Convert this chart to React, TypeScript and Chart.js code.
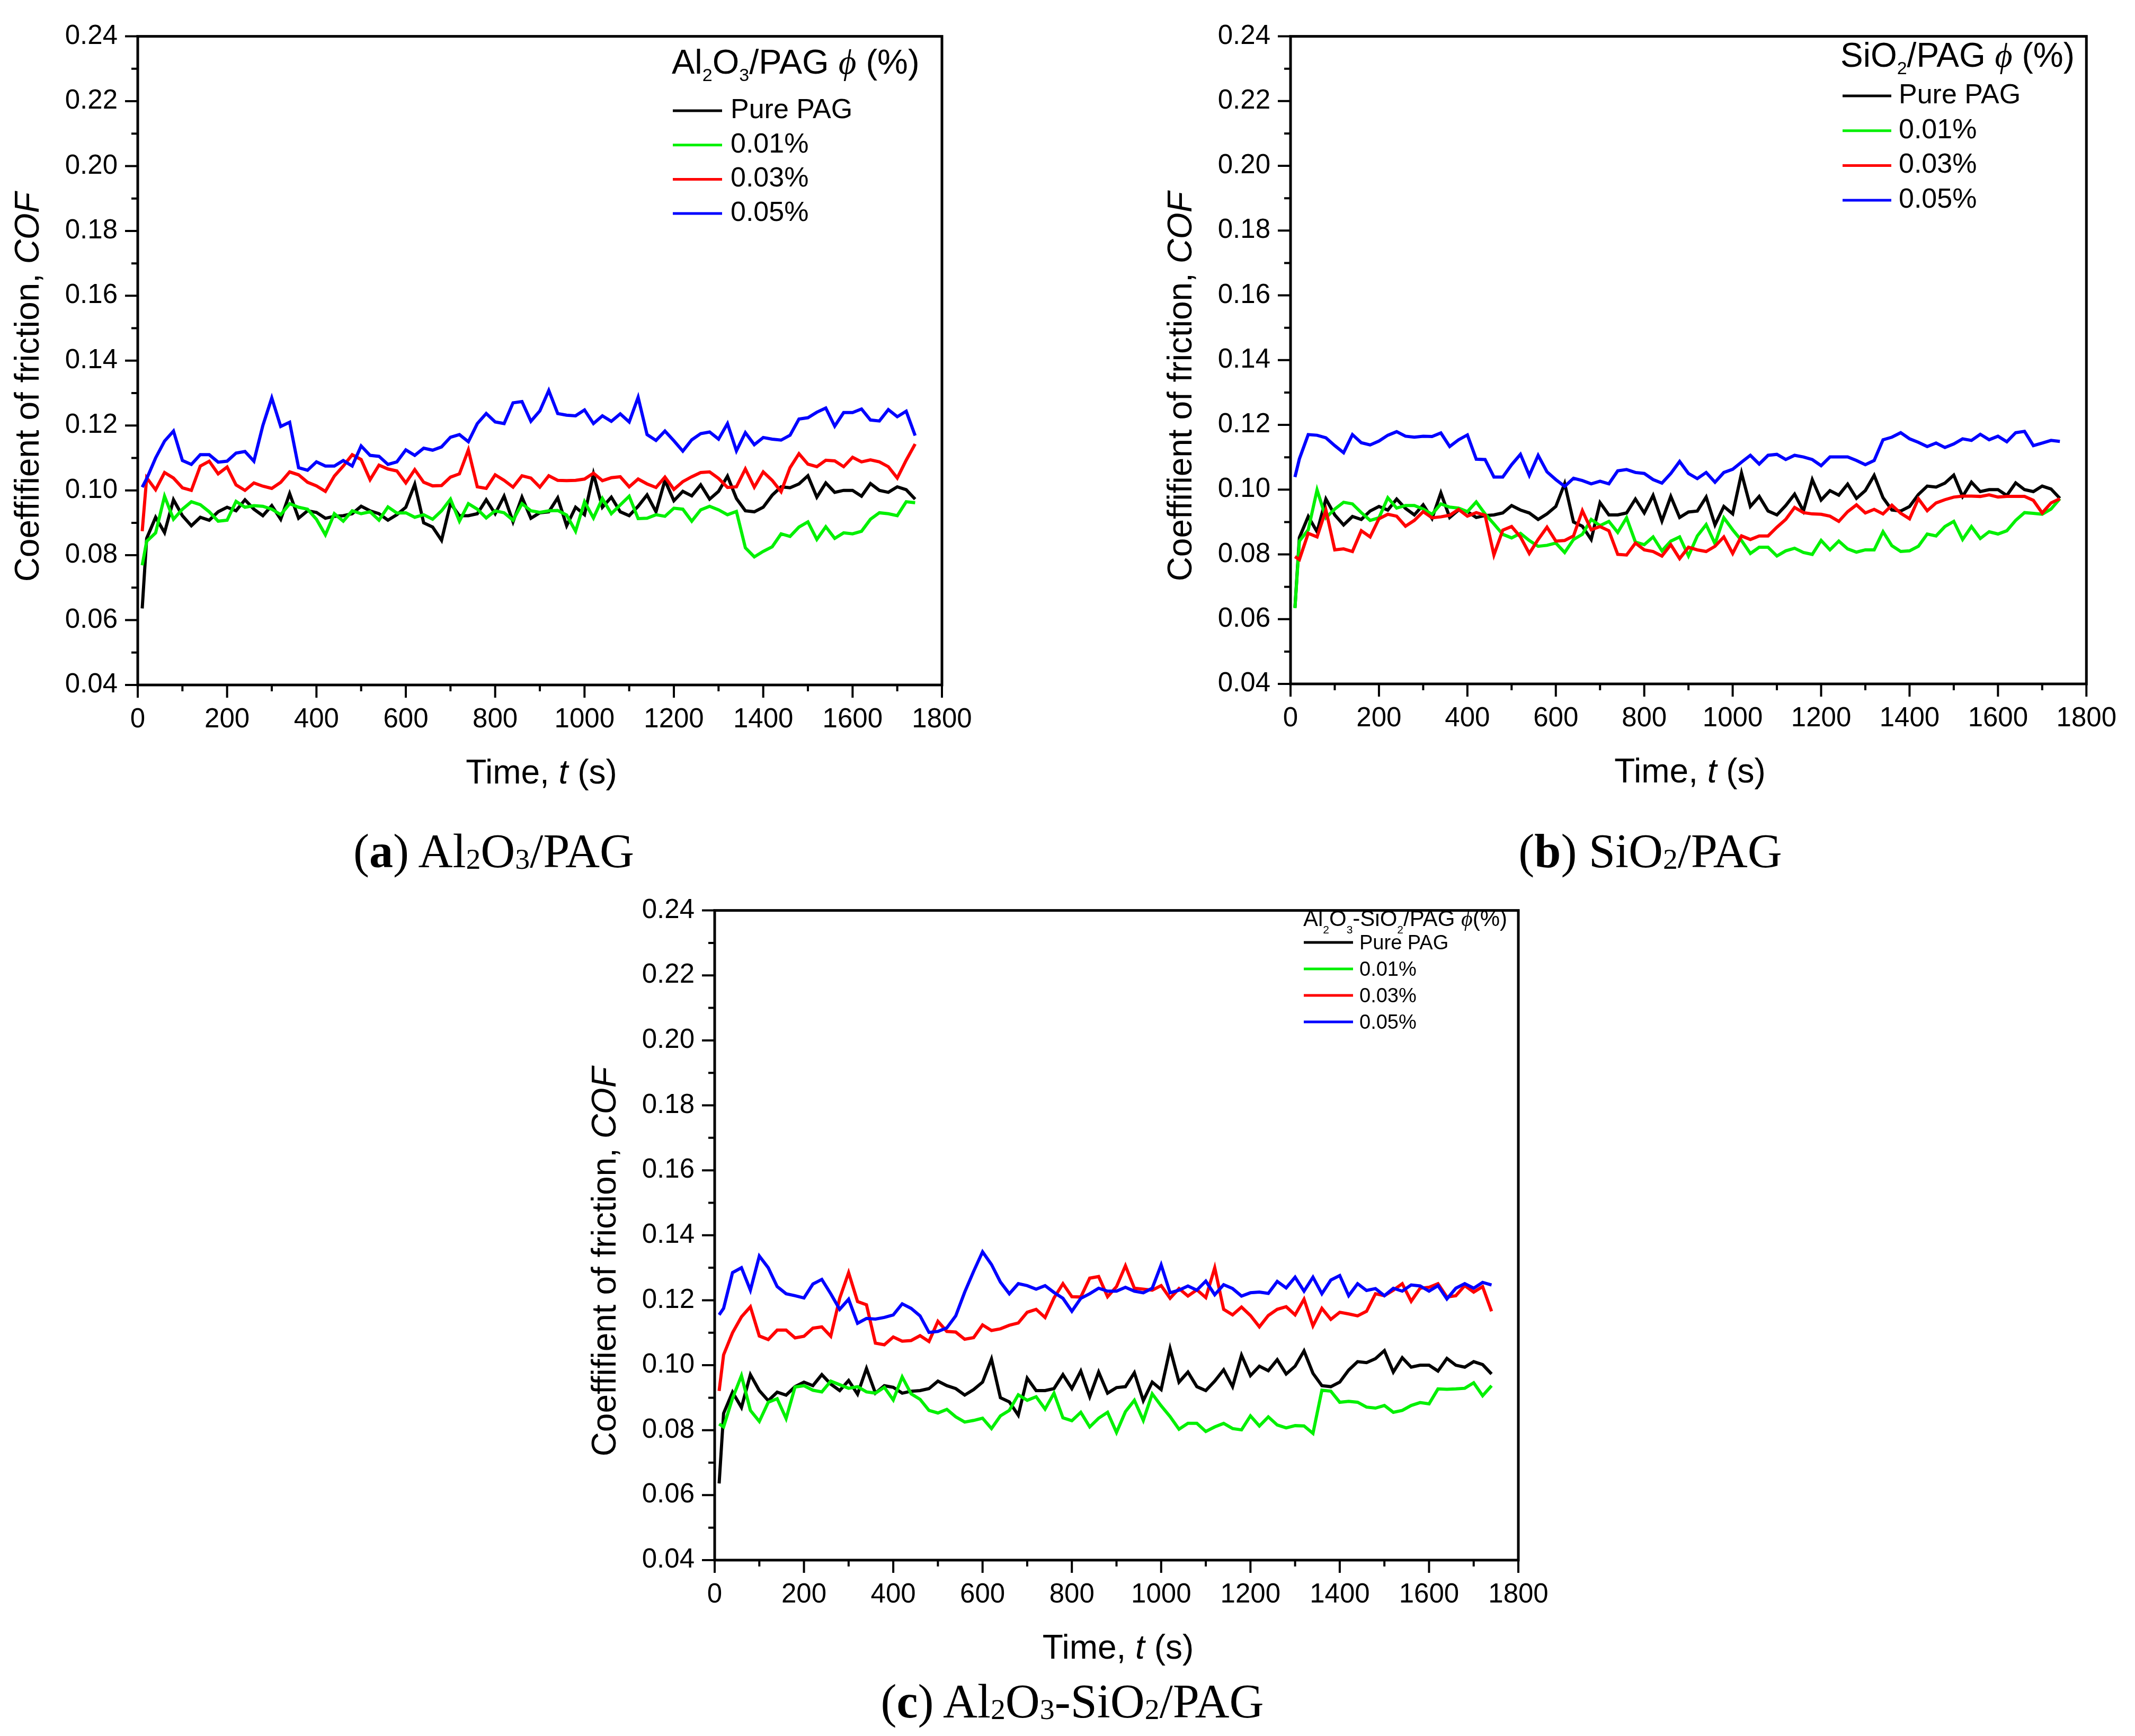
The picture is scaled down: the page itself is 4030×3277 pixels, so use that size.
import { useEffect, useRef } from "react";
import { Chart, registerables } from "chart.js";

Chart.register(...registerables);

const SANS = "'Liberation Sans', Arial, sans-serif";
const SERIF = "'Liberation Serif', 'DejaVu Serif', serif";

// sampling times (s)
const times = [
  10, 20, 40, 60, 80, 100, 120, 140, 160, 180,
  200, 220, 240, 260, 280, 300, 320, 340, 360, 380,
  400, 420, 440, 460, 480, 500, 520, 540, 560, 580,
  600, 620, 640, 660, 680, 700, 720, 740, 760, 780,
  800, 820, 840, 860, 880, 900, 920, 940, 960, 980,
  1000, 1020, 1040, 1060, 1080, 1100, 1120, 1140, 1160, 1180,
  1200, 1220, 1240, 1260, 1280, 1300, 1320, 1340, 1360, 1380,
  1400, 1420, 1440, 1460, 1480, 1500, 1520, 1540, 1560, 1580,
  1600, 1620, 1640, 1660, 1680, 1700, 1720, 1740,
];

// Pure PAG (same run in all three panels)
const purePag = [
  0.0636, 0.0852, 0.0917, 0.087, 0.0971, 0.0922, 0.0891, 0.0917, 0.0908, 0.0934,
  0.0948, 0.0937, 0.0971, 0.0942, 0.0922, 0.0953, 0.0911, 0.099, 0.0914, 0.0937,
  0.0932, 0.0914, 0.092, 0.0922, 0.0928, 0.0951, 0.0937, 0.0928, 0.0908, 0.0925,
  0.0948, 0.1019, 0.09, 0.0887, 0.0846, 0.096, 0.0922, 0.0922, 0.0928, 0.0971,
  0.0928, 0.0982, 0.0903, 0.0979, 0.0914, 0.0931, 0.0934, 0.0977, 0.0891, 0.0948,
  0.0925, 0.1051, 0.0948, 0.0979, 0.0934, 0.0922, 0.0951, 0.0986, 0.0934, 0.1031,
  0.0968, 0.0997, 0.0983, 0.1017, 0.0973, 0.0997, 0.1044, 0.0975, 0.0937, 0.0934,
  0.0948, 0.0985, 0.1011, 0.1008, 0.102, 0.1045, 0.0979, 0.1023, 0.0994, 0.1,
  0.1, 0.0982, 0.1021, 0.1, 0.0994, 0.1011, 0.1002, 0.0973,
];

// (a) Al2O3/PAG
const al2o3_001 = [
  0.0769, 0.0843, 0.0869, 0.0982, 0.0911, 0.0942, 0.0965, 0.0956, 0.0934, 0.0905,
  0.0908, 0.0966, 0.0948, 0.0953, 0.0951, 0.0942, 0.0925, 0.0959, 0.0948, 0.0942,
  0.0911, 0.0863, 0.0928, 0.0905, 0.0937, 0.0928, 0.0934, 0.0908, 0.0949, 0.093,
  0.0931, 0.0917, 0.0925, 0.0911, 0.0937, 0.0973, 0.0905, 0.0959, 0.0942, 0.0915,
  0.0937, 0.0931, 0.0908, 0.0959, 0.0937, 0.0932, 0.0937, 0.0938, 0.0924, 0.0874,
  0.0965, 0.0915, 0.0975, 0.0928, 0.0955, 0.0982, 0.0913, 0.0914, 0.0925, 0.092,
  0.0945, 0.0942, 0.0905, 0.094, 0.0951, 0.094, 0.0925, 0.0935, 0.0823, 0.0795,
  0.0812, 0.0826, 0.0866, 0.0858, 0.0887, 0.0903, 0.0849, 0.0888, 0.0852, 0.0869,
  0.0866, 0.0874, 0.0911, 0.0931, 0.0928, 0.0922, 0.0965, 0.0962,
];
const al2o3_003 = [
  0.0874, 0.1039, 0.1002, 0.1055, 0.1038, 0.1008, 0.1, 0.1075, 0.109, 0.1051,
  0.1072, 0.1017, 0.1, 0.1023, 0.1013, 0.1006, 0.1025, 0.1057, 0.1048, 0.1025,
  0.1014, 0.0997, 0.1044, 0.1075, 0.111, 0.1095, 0.1033, 0.1078, 0.1066, 0.106,
  0.1023, 0.1064, 0.1025, 0.1014, 0.1015, 0.1041, 0.1051, 0.1125, 0.1011, 0.1006,
  0.1048, 0.1031, 0.101, 0.1045, 0.1038, 0.101, 0.1045, 0.1031, 0.103, 0.1031,
  0.1035, 0.1053, 0.103, 0.1039, 0.1042, 0.1011, 0.1035, 0.102, 0.1009, 0.1041,
  0.1003, 0.1027, 0.1042, 0.1055, 0.1057, 0.1037, 0.1009, 0.1011, 0.1066, 0.101,
  0.1057, 0.1031, 0.0996, 0.107, 0.1113, 0.1081, 0.1073, 0.1093, 0.1091, 0.1073,
  0.1102, 0.1088, 0.1094, 0.1088, 0.1073, 0.1038, 0.1093, 0.1143,
];
const al2o3_005 = [
  0.101, 0.1036, 0.11, 0.1152, 0.1183, 0.1092, 0.108, 0.111, 0.111, 0.1087,
  0.109, 0.1115, 0.112, 0.109, 0.12, 0.1285, 0.1197, 0.121, 0.107, 0.1062,
  0.1088, 0.1075, 0.1075, 0.1092, 0.1075, 0.1137, 0.1108, 0.1105, 0.108, 0.1088,
  0.1125, 0.1108, 0.113, 0.1124, 0.1134, 0.1164, 0.1172, 0.115, 0.1206, 0.1237,
  0.1211, 0.1206, 0.127, 0.1274, 0.1213, 0.1245, 0.1308, 0.1237, 0.1232, 0.123,
  0.1248, 0.1206, 0.123, 0.1213, 0.1236, 0.1211, 0.1287, 0.1172, 0.1154, 0.1183,
  0.1153, 0.1121, 0.1156, 0.1175, 0.118, 0.1158, 0.1206, 0.1122, 0.1178, 0.1141,
  0.1163, 0.1158, 0.1155, 0.117, 0.122, 0.1224, 0.1241, 0.1254, 0.1198, 0.124,
  0.124, 0.1251, 0.1217, 0.1214, 0.1249, 0.1227, 0.1244, 0.1169,
];

// (b) SiO2/PAG
const sio2_001 = [
  0.0634, 0.0841, 0.0876, 0.0999, 0.0913, 0.094, 0.0961, 0.0956, 0.0929, 0.0905,
  0.0913, 0.0975, 0.0943, 0.0951, 0.0951, 0.094, 0.0924, 0.0956, 0.0946, 0.0943,
  0.0932, 0.0962, 0.0925, 0.0894, 0.0862, 0.0851, 0.0865, 0.0843, 0.0825, 0.0828,
  0.0835, 0.0806, 0.0846, 0.0862, 0.0908, 0.0889, 0.0902, 0.0868, 0.0913, 0.0838,
  0.083, 0.0854, 0.0811, 0.0841, 0.0854, 0.0795, 0.0857, 0.0892, 0.0833, 0.0913,
  0.0876, 0.0843, 0.0803, 0.0822, 0.0822, 0.0795, 0.0811, 0.0819, 0.0806, 0.08,
  0.0843, 0.0814, 0.0841, 0.0817, 0.0807, 0.0814, 0.0814, 0.087, 0.0827, 0.0809,
  0.0811, 0.0825, 0.0863, 0.0857, 0.0886, 0.0902, 0.0846, 0.0886, 0.0849, 0.087,
  0.0863, 0.0873, 0.0905, 0.0929, 0.0927, 0.0924, 0.094, 0.0972,
];
const sio2_003 = [
  0.0793, 0.0784, 0.0865, 0.0854, 0.0937, 0.0814, 0.0817, 0.0809, 0.0873, 0.0854,
  0.091, 0.0924, 0.0918, 0.0887, 0.0905, 0.0932, 0.0913, 0.0916, 0.0921, 0.0939,
  0.0918, 0.0929, 0.0921, 0.0798, 0.0875, 0.0886, 0.0854, 0.0803, 0.0846, 0.0884,
  0.0841, 0.0843, 0.0857, 0.0935, 0.0876, 0.0886, 0.0873, 0.08, 0.0798, 0.0835,
  0.0814, 0.0809, 0.0795, 0.083, 0.0787, 0.0822, 0.0814, 0.0809, 0.0825, 0.0854,
  0.0803, 0.0857, 0.0846, 0.0857, 0.0857, 0.0884, 0.0908, 0.0945, 0.0929, 0.0925,
  0.0924, 0.0918, 0.0902, 0.0932, 0.0953, 0.0928, 0.0939, 0.0925, 0.0952, 0.0927,
  0.091, 0.0972, 0.0935, 0.0959, 0.0969, 0.0977, 0.098, 0.098, 0.0979, 0.0984,
  0.0977, 0.0979, 0.0979, 0.0979, 0.0967, 0.0928, 0.0959, 0.0972,
];
const sio2_005 = [
  0.1039, 0.1095, 0.117, 0.1168, 0.116, 0.1136, 0.1114, 0.117, 0.1145, 0.1138,
  0.115, 0.1168, 0.1179, 0.1165, 0.1162, 0.1165, 0.1164, 0.1175, 0.1133, 0.1154,
  0.1169, 0.1094, 0.1093, 0.1039, 0.1039, 0.1077, 0.1109, 0.1044, 0.1106, 0.1055,
  0.1031, 0.101, 0.1035, 0.1028, 0.1018, 0.1026, 0.1018, 0.1058, 0.1062, 0.1053,
  0.105, 0.1031, 0.102, 0.105, 0.1087, 0.105, 0.1034, 0.1053, 0.1023, 0.1053,
  0.1063, 0.1085, 0.1106, 0.1079, 0.1106, 0.1109, 0.1093, 0.1106, 0.1101, 0.1093,
  0.1074, 0.1101, 0.1101, 0.1101, 0.109, 0.1077, 0.109, 0.1154, 0.1162, 0.1176,
  0.1157, 0.1146, 0.1133, 0.1144, 0.113, 0.1141, 0.1157, 0.1152, 0.1171, 0.1154,
  0.1165, 0.1148, 0.1176, 0.118, 0.1136, 0.1144, 0.1152, 0.1149,
];

// (c) Al2O3-SiO2/PAG
const hybrid_001 = [
  0.0819, 0.081, 0.0898, 0.0968, 0.0861, 0.0827, 0.0886, 0.0897, 0.0836, 0.0933,
  0.0937, 0.0923, 0.0918, 0.0951, 0.094, 0.0929, 0.0934, 0.0918, 0.0914, 0.0932,
  0.0893, 0.0964, 0.0912, 0.0895, 0.0861, 0.0853, 0.0864, 0.0841, 0.0825, 0.083,
  0.0837, 0.0805, 0.0844, 0.0861, 0.0909, 0.0892, 0.0903, 0.0865, 0.0914, 0.0838,
  0.0829, 0.0855, 0.081, 0.0837, 0.0855, 0.0793, 0.0857, 0.0892, 0.083, 0.0912,
  0.0875, 0.0842, 0.0803, 0.0821, 0.0821, 0.0796, 0.081, 0.0821, 0.0805, 0.0801,
  0.0844, 0.0813, 0.0841, 0.0816, 0.0807, 0.0814, 0.0813, 0.079, 0.0923, 0.092,
  0.0886, 0.0889, 0.0886, 0.0871, 0.0868, 0.0876, 0.0855, 0.0861, 0.0876, 0.0885,
  0.0881, 0.0927, 0.0926, 0.0927, 0.0929, 0.0946, 0.0906, 0.0937,
];
const hybrid_003 = [
  0.0921, 0.1032, 0.11, 0.1149, 0.118, 0.109, 0.1079, 0.1108, 0.1108, 0.1084,
  0.1089, 0.1114, 0.1118, 0.1089, 0.1206, 0.1285, 0.1196, 0.1186, 0.1068, 0.1063,
  0.1087, 0.1074, 0.1076, 0.1091, 0.1073, 0.1135, 0.1104, 0.1102, 0.108, 0.1085,
  0.1124, 0.1107, 0.1112, 0.1123, 0.113, 0.1163, 0.1172, 0.1147, 0.1207, 0.1251,
  0.1211, 0.121, 0.1268, 0.1273, 0.1211, 0.1242, 0.1306, 0.1237, 0.1234, 0.1231,
  0.1245, 0.1206, 0.1236, 0.1213, 0.1232, 0.1208, 0.13, 0.1172, 0.1155, 0.1179,
  0.1153, 0.1118, 0.1153, 0.1172, 0.118, 0.1155, 0.1203, 0.1121, 0.1175, 0.1141,
  0.1163, 0.1158, 0.1152, 0.1166, 0.122, 0.1214, 0.1231, 0.1251, 0.1197, 0.1237,
  0.124, 0.1251, 0.121, 0.1214, 0.1245, 0.1225, 0.1242, 0.1166,
];
const hybrid_005 = [
  0.1155, 0.1175, 0.1285, 0.13, 0.1231, 0.1336, 0.13, 0.1242, 0.122, 0.1214,
  0.1207, 0.125, 0.1264, 0.122, 0.1172, 0.1203, 0.1129, 0.1144, 0.1142, 0.1147,
  0.1155, 0.1189, 0.1175, 0.1152, 0.1101, 0.1104, 0.1115, 0.1152, 0.1225, 0.1289,
  0.1349, 0.131, 0.1256, 0.122, 0.1251, 0.1245, 0.1234, 0.1245, 0.1224, 0.1206,
  0.1166, 0.1206, 0.122, 0.1237, 0.1228, 0.1228, 0.124, 0.1228, 0.1223, 0.1237,
  0.1309, 0.1223, 0.1231, 0.1244, 0.1231, 0.1259, 0.1217, 0.1248, 0.1236, 0.1213,
  0.1223, 0.1225, 0.1221, 0.1258, 0.1238, 0.1271, 0.1228, 0.1271, 0.122, 0.1262,
  0.1276, 0.1214, 0.1251, 0.123, 0.1236, 0.1214, 0.1237, 0.1228, 0.1247, 0.1244,
  0.1228, 0.1245, 0.1204, 0.1237, 0.1251, 0.1237, 0.1255, 0.1247,
];

const seriesLabels = ["Pure PAG", "0.01%", "0.03%", "0.05%"];
const seriesColors = ["#000000", "#00f000", "#ff0000", "#0000ff"];

type Seg = { t: string; size: number; italic?: boolean; serif?: boolean; dy?: number };

type LegendCfg = {
  title: Seg[];
  x: number;
  y: number;
  y0: number;
  step: number;
  font: number;
  lineX: [number, number];
  textX: number;
  lineDy: number;
};

type PanelCfg = {
  key: string;
  x: number;
  y: number;
  w: number;
  h: number;
  plot: { l: number; t: number; r: number; b: number };
  series: number[][];
  legend: LegendCfg;
};

const phi = (size: number): Seg => ({ t: "\u03D5", size, italic: true, serif: true });

const panels: PanelCfg[] = [
  {
    key: "a",
    x: 0,
    y: 0,
    w: 1900,
    h: 1520,
    plot: { l: 260, t: 48, r: 1778, b: 1293 },
    series: [purePag, al2o3_001, al2o3_003, al2o3_005],
    legend: {
      title: [
        { t: "Al", size: 65 },
        { t: "2", size: 34, dy: 14 },
        { t: "O", size: 65 },
        { t: "3", size: 34, dy: 14 },
        { t: "/PAG ", size: 65 },
        phi(65),
        { t: " (%)", size: 65 },
      ],
      x: 1268,
      y: 139,
      y0: 223,
      step: 64.7,
      font: 52,
      lineX: [1270, 1363],
      textX: 1379,
      lineDy: 14,
    },
  },
  {
    key: "b",
    x: 2150,
    y: 0,
    w: 1880,
    h: 1520,
    plot: { l: 286, t: 36, r: 1802, b: 1291 },
    series: [purePag, sio2_001, sio2_003, sio2_005],
    legend: {
      title: [
        { t: "SiO", size: 64 },
        { t: "2", size: 34, dy: 14 },
        { t: "/PAG ", size: 64 },
        phi(64),
        { t: " (%)", size: 64 },
      ],
      x: 1324,
      y: 126,
      y0: 195,
      step: 65.7,
      font: 52,
      lineX: [1328, 1420],
      textX: 1434,
      lineDy: 14,
    },
  },
  {
    key: "c",
    x: 1060,
    y: 1650,
    w: 1900,
    h: 1520,
    plot: { l: 289, t: 48, r: 1806, b: 1295 },
    series: [purePag, hybrid_001, hybrid_003, hybrid_005],
    legend: {
      title: [
        { t: "Al", size: 42 },
        { t: "2", size: 21, dy: 14 },
        { t: "O", size: 42 },
        { t: "3", size: 21, dy: 14 },
        { t: "-SiO", size: 42 },
        { t: "2", size: 21, dy: 14 },
        { t: "/PAG ", size: 42 },
        phi(42),
        { t: "(%)", size: 42 },
      ],
      x: 1400,
      y: 98,
      y0: 142,
      step: 50,
      font: 38,
      lineX: [1401, 1494],
      textX: 1506,
      lineDy: 13,
    },
  },
];

const yTitle: Seg[] = [
  { t: "Coeffifient of friction, ", size: 64 },
  { t: "COF", size: 64, italic: true },
];
const xTitle: Seg[] = [
  { t: "Time, ", size: 64 },
  { t: "t", size: 64, italic: true },
  { t: " (s)", size: 64 },
];

function segFont(s: Seg) {
  return `${s.italic ? "italic " : ""}${s.size}px ${s.serif ? SERIF : SANS}`;
}

function segsWidth(ctx: CanvasRenderingContext2D, segs: Seg[]) {
  let w = 0;
  for (const s of segs) {
    ctx.font = segFont(s);
    w += ctx.measureText(s.t).width;
  }
  return w;
}

function drawSegs(ctx: CanvasRenderingContext2D, segs: Seg[], x: number, y: number) {
  let cx = x;
  for (const s of segs) {
    ctx.font = segFont(s);
    ctx.fillText(s.t, cx, y + (s.dy ?? 0));
    cx += ctx.measureText(s.t).width;
  }
}

function decorPlugin(p: PanelCfg) {
  return {
    id: "decor-" + p.key,
    afterDraw(chart: any) {
      const { ctx, chartArea: a, scales } = chart;
      ctx.save();
      ctx.fillStyle = "#000";
      ctx.strokeStyle = "#000";
      ctx.textAlign = "left";
      ctx.textBaseline = "alphabetic";

      // frame
      ctx.lineWidth = 5;
      ctx.strokeRect(a.left, a.top, a.right - a.left, a.bottom - a.top);

      // major / minor tick marks, outside
      ctx.lineWidth = 4;
      ctx.beginPath();
      for (const tk of scales.x.ticks) {
        const px = scales.x.getPixelForValue(tk.value);
        const len = Math.round(tk.value) % 200 === 0 ? 24 : 12;
        ctx.moveTo(px, a.bottom);
        ctx.lineTo(px, a.bottom + len);
      }
      for (const tk of scales.y.ticks) {
        const py = scales.y.getPixelForValue(tk.value);
        const len = Math.round(tk.value * 100) % 2 === 0 ? 24 : 12;
        ctx.moveTo(a.left, py);
        ctx.lineTo(a.left - len, py);
      }
      ctx.stroke();

      // axis titles
      const xw = segsWidth(ctx, xTitle);
      drawSegs(ctx, xTitle, (a.left + a.right) / 2 + 3 - xw / 2, a.bottom + 186);

      ctx.save();
      ctx.translate(a.left - 187, (a.top + a.bottom) / 2 + 50);
      ctx.rotate(-Math.PI / 2);
      const yw = segsWidth(ctx, yTitle);
      drawSegs(ctx, yTitle, -yw / 2, 0);
      ctx.restore();

      // legend
      const lg = p.legend;
      drawSegs(ctx, lg.title, lg.x, lg.y);
      seriesLabels.forEach((lab, i) => {
        const by = lg.y0 + i * lg.step;
        ctx.strokeStyle = seriesColors[i];
        ctx.lineWidth = 5;
        ctx.beginPath();
        ctx.moveTo(lg.lineX[0], by - lg.lineDy);
        ctx.lineTo(lg.lineX[1], by - lg.lineDy);
        ctx.stroke();
        ctx.font = `${lg.font}px ${SANS}`;
        ctx.fillText(lab, lg.textX, by);
      });
      ctx.restore();
    },
  };
}

function FrictionChart({ p }: { p: PanelCfg }) {
  const ref = useRef<HTMLCanvasElement | null>(null);

  useEffect(() => {
    if (!ref.current) return;
    const chart = new Chart(ref.current, {
      type: "line",
      data: {
        datasets: p.series.map((vals, i) => ({
          label: seriesLabels[i],
          data: times.map((t, k) => ({ x: t, y: vals[k] })),
          borderColor: seriesColors[i],
          backgroundColor: seriesColors[i],
          borderWidth: 6,
          borderJoinStyle: "miter",
          pointRadius: 0,
          tension: 0,
          order: 4 - i,
        })),
      },
      options: {
        responsive: false,
        animation: false,
        devicePixelRatio: 1,
        events: [],
        layout: {
          padding: { left: 0, top: p.plot.t, right: p.w - p.plot.r, bottom: 0 },
        },
        plugins: { legend: { display: false }, tooltip: { enabled: false } },
        scales: {
          x: {
            type: "linear",
            min: 0,
            max: 1800,
            grid: { display: false, drawTicks: false },
            border: { display: false },
            ticks: {
              stepSize: 100,
              autoSkip: false,
              maxRotation: 0,
              padding: 35,
              color: "#000",
              font: { family: SANS, size: 51 },
              callback: (v: any) => (Math.round(v) % 200 === 0 ? String(Math.round(v)) : ""),
            },
            afterFit: (s: any) => {
              s.height = p.h - p.plot.b;
            },
          },
          y: {
            type: "linear",
            min: 0.04,
            max: 0.24,
            grid: { display: false, drawTicks: false },
            border: { display: false },
            ticks: {
              stepSize: 0.01,
              autoSkip: false,
              padding: 38,
              color: "#000",
              font: { family: SANS, size: 51 },
              callback: (v: any) => (Math.round(v * 100) % 2 === 0 ? Number(v).toFixed(2) : ""),
            },
            afterFit: (s: any) => {
              s.width = p.plot.l;
            },
          },
        },
      },
      plugins: [decorPlugin(p)],
    } as any);
    return () => chart.destroy();
  }, [p]);

  return (
    <canvas
      ref={ref}
      width={p.w}
      height={p.h}
      style={{ position: "absolute", left: p.x, top: p.y, width: p.w, height: p.h }}
    />
  );
}

const subStyle = { fontSize: "0.62em", position: "relative" as const, top: "0.06em" };

function Caption({ cx, base, children }: { cx: number; base: number; children: any }) {
  return (
    <div
      style={{
        position: "absolute",
        left: cx,
        top: base - 74,
        transform: "translateX(-50%)",
        font: `90px ${SERIF}`,
        lineHeight: "88px",
        whiteSpace: "nowrap",
        color: "#000",
      }}
    >
      {children}
    </div>
  );
}

export default function App() {
  useEffect(() => {
    document.body.style.margin = "0";
    document.body.style.background = "#fff";
  }, []);

  return (
    <div style={{ position: "relative", width: 4030, height: 3277, background: "#fff", overflow: "hidden" }}>
      {panels.map((p) => (
        <FrictionChart key={p.key} p={p} />
      ))}
      <Caption cx={932} base={1637}>
        (<b>a</b>) Al<span style={subStyle}>2</span>O<span style={subStyle}>3</span>/PAG
      </Caption>
      <Caption cx={3115} base={1637}>
        (<b>b</b>) SiO<span style={subStyle}>2</span>/PAG
      </Caption>
      <Caption cx={2024} base={3242}>
        (<b>c</b>) Al<span style={subStyle}>2</span>O<span style={subStyle}>3</span>-SiO
        <span style={subStyle}>2</span>/PAG
      </Caption>
    </div>
  );
}
